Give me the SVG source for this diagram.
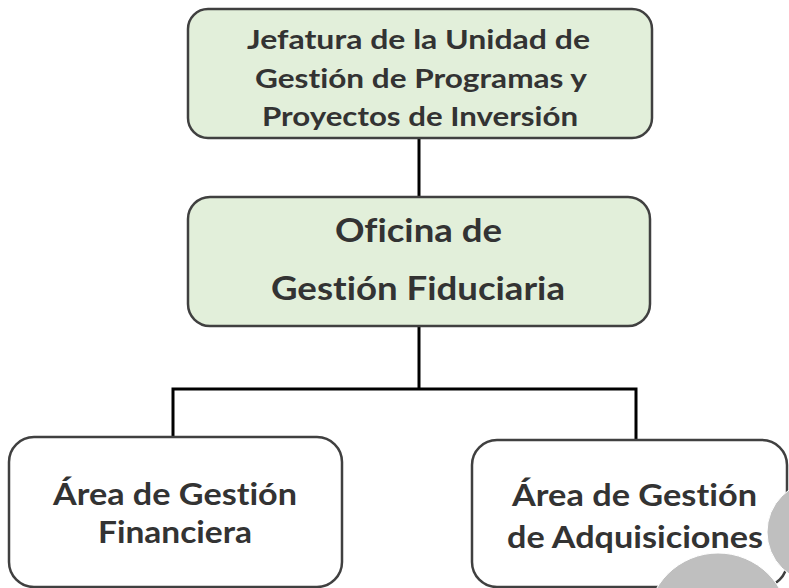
<svg xmlns="http://www.w3.org/2000/svg" width="789" height="588" viewBox="0 0 789 588">
  <style>
    .box { stroke: #404040; stroke-width: 2.5; }
    .green { fill: #e2efda; }
    .white { fill: #ffffff; }
    .t { font-family: Lato, "Liberation Sans", sans-serif; font-weight: bold; fill: #333333; text-anchor: middle; font-variant-ligatures: none; }
    .conn { stroke: #000000; stroke-width: 3; fill: none; }
    .deco { fill: #bfbfbf; stroke: #ffffff; stroke-width: 1; }
  </style>
  <rect width="789" height="588" fill="#ffffff"/>
  <g id="connectors">
    <line class="conn" x1="419" y1="138" x2="419" y2="196"/>
    <polyline class="conn" points="419,326 419,389"/>
    <polyline class="conn" points="173,437 173,389 636,389 636,440"/>
  </g>
  <g id="jefatura">
    <rect class="box green" x="188" y="9" width="464" height="129" rx="20"/>
    <text class="t" font-size="27" x="418.5" y="49" textLength="343" lengthAdjust="spacingAndGlyphs">Jefatura de la Unidad  de</text>
    <text class="t" font-size="27" x="421" y="88" textLength="332" lengthAdjust="spacingAndGlyphs">Gestión de Programas y</text>
    <text class="t" font-size="27" x="420" y="126" textLength="316" lengthAdjust="spacingAndGlyphs">Proyectos de Inversión</text>
  </g>
  <g id="oficina">
    <rect class="box green" x="188" y="197" width="462" height="129" rx="22"/>
    <text class="t" font-size="33" x="418.5" y="242" textLength="167" lengthAdjust="spacingAndGlyphs">Oficina de</text>
    <text class="t" font-size="33" x="418" y="300" textLength="294" lengthAdjust="spacingAndGlyphs">Gestión Fiduciaria</text>
  </g>
  <g id="financiera">
    <rect class="box white" x="9" y="437" width="333" height="150" rx="25"/>
    <text class="t" font-size="30" x="175" y="505" textLength="244" lengthAdjust="spacingAndGlyphs">Área de Gestión</text>
    <text class="t" font-size="30" x="175" y="543" textLength="154" lengthAdjust="spacingAndGlyphs">Financiera</text>
  </g>
  <g id="adquisiciones">
    <rect class="box white" x="472" y="440" width="315" height="147" rx="25"/>
    <text class="t" font-size="30" x="634.5" y="506" textLength="245" lengthAdjust="spacingAndGlyphs">Área de Gestión</text>
    <text class="t" font-size="30" x="635" y="548" textLength="256" lengthAdjust="spacingAndGlyphs">de Adquisiciones</text>
  </g>
  <g id="decoration">
    <circle class="deco" cx="818" cy="532" r="51"/>
    <circle class="deco" cx="718" cy="624" r="71"/>
  </g>
</svg>
